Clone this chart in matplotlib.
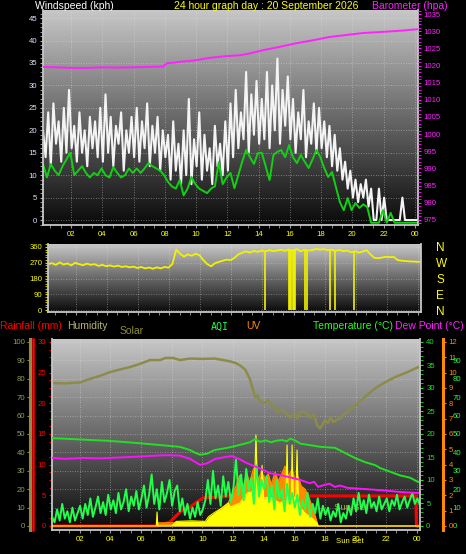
import matplotlib.pyplot as plt
import numpy as np
from matplotlib.ticker import MultipleLocator

plt.rcParams["font.family"] = ["Liberation Sans", "DejaVu Sans"]

W, H = 466, 554
T0, T1 = 0.2, 24.2  # the 24 hour window, in hours from midnight

# ---- top panel: wind speed (kph) and barometer (hPa) ----
# gusts every 10 minutes from T0
gust_kph = [
    20, 14, 24, 12, 26, 17, 22, 13, 25, 15, 29, 16,
    21, 13, 24, 15, 20, 12, 23, 16, 22, 14, 25, 13,
    28, 15, 23, 12, 21, 17, 24, 11, 20, 15, 23, 14,
    25, 13, 22, 16, 26, 12, 21, 15, 23, 11, 20, 14,
    19, 9, 22, 11, 17, 8, 20, 10, 27, 8, 18, 12,
    24, 9, 19, 11, 16, 8, 21, 12, 17, 10, 22, 11,
    26, 14, 29, 16, 24, 18, 33, 15, 28, 19, 31, 17,
    27, 18, 33, 16, 30, 20, 36, 17, 29, 21, 32, 18,
    27, 15, 24, 18, 29, 14, 22, 17, 26, 15, 25, 16,
    22, 14, 21, 12, 19, 11, 16, 9, 13, 7, 11, 5,
    9, 4, 8, 5, 9, 3, 7, 0, 0, 7, 0, 5,
    0, 0, 0, 0, 0, 0, 5, 0, 0, 0, 0, 0, 0,
]
# average speed every 15 minutes from T0
avg_kph = [
    12.5, 9.5, 12.5, 11, 10, 12, 13.5, 15, 10, 11, 12, 10.5,
    9.5, 10.5, 10, 11.5, 10, 9.5, 11.8, 10.5, 9.5, 10, 11.5, 10.5,
    11.5, 10.5, 11.5, 12.7, 12, 11.5, 11, 10, 8.5, 7.5, 7, 8.9,
    5.5, 7, 9.6, 8, 7, 6.5, 6, 7, 7.5, 12.9, 8, 9.5,
    10.5, 7.1, 10, 13, 15.6, 14, 12.5, 14.9, 15, 12, 8.9, 14.5,
    15.2, 15.6, 14, 16.7, 14, 12.7, 14.5, 13, 11.6, 13.5, 15.6, 14,
    11.6, 9.6, 10.7, 7.3, 4, 2.2, 4.9, 2.2, 3.8, 2.7, 3.5, 2.9,
    -0.6, -0.6, -0.6, 2.2, -0.6, 1.6, -0.6, -0.6, -0.6, -0.6, -0.6, -0.6, -0.6,
]
baro_hours = [0.2, 1.0, 2.0, 3.0, 4.0, 5.0, 6.0, 7.0, 7.9, 8.1, 9.0, 9.9, 10.8,
              11.8, 12.8, 13.5, 14.3, 15.3, 16.4, 17.4, 18.5, 19.6, 20.7, 21.5,
              22.2, 23.2, 24.2]
baro_hpa = [1019.6, 1019.5, 1019.3, 1019.3, 1019.5, 1019.4, 1019.5, 1019.6, 1019.7,
            1020.6, 1021.1, 1021.5, 1022.2, 1022.7, 1023.0, 1023.6, 1024.5, 1025.4,
            1026.5, 1027.3, 1028.3, 1028.9, 1029.5, 1029.7, 1029.9, 1030.2, 1030.6]

# ---- middle panel: wind direction (degrees), every 15 minutes from T0 ----
dir_deg = [
    262, 268, 258, 272, 260, 266, 255, 270, 262, 256, 265, 258,
    262, 252, 258, 250, 255, 248, 254, 246, 250, 244, 248, 240,
    246, 238, 243, 236, 244, 238, 246, 242, 262, 345, 322, 305,
    318, 310, 322, 312, 285, 262, 250, 268, 275, 282, 288, 285,
    298, 318, 328, 335, 328, 338, 332, 340, 335, 342, 336, 340,
    344, 338, 346, 340, 348, 336, 344, 340, 342, 350, 345, 348,
    342, 345, 338, 344, 336, 340, 330, 336, 328, 334, 342, 318,
    298, 296, 300, 304, 302, 303, 285, 282, 280, 278, 277, 276, 275,
]
# short readings that dropped to north
dir_drop_hours = [14.16, 15.7, 15.78, 15.86, 15.94, 16.02, 16.1, 16.74, 16.87,
                  18.35, 18.67, 19.9]
dir_drop_from = [335, 340, 345, 342, 338, 344, 340, 342, 340, 344, 340, 334]

# ---- bottom panel ----
hum_hours = [0.2, 1.05, 2.0, 2.7, 3.3, 4.0, 4.6, 5.3, 5.9, 6.6, 7.25, 7.6, 8.1,
             8.55, 9.2, 10.0, 10.8, 11.35, 11.8, 12.2, 12.5, 12.8, 13.1, 13.45,
             13.6, 13.8, 14.1, 14.25, 14.45, 14.75, 14.9, 15.2, 15.45, 15.75,
             16.05, 16.2, 16.4, 16.7, 17.05, 17.3, 17.5, 17.7, 18.0, 18.2, 18.35,
             18.55, 18.75, 19.0, 19.3, 19.65, 20.0, 20.6, 21.3, 21.9, 22.6, 23.2,
             24.1, 24.2]
hum_pct = [77.7, 77.5, 78, 80, 81.5, 83.7, 85, 86.4, 88, 90.2, 90.2, 91.3, 91.3,
           90.2, 91, 90.8, 91, 90.2, 89.5, 88.5, 87, 85, 80, 70, 71, 67.4, 67,
           68.5, 66, 64.7, 62, 63, 61.5, 59, 61, 58.5, 62, 62, 59, 60.5, 54.5, 53,
           57.6, 56, 59, 56.5, 57.6, 58.5, 61, 63.5, 65.7, 70, 75, 78, 81, 83,
           86.4, 86.5]

temp_hours = [0.2, 1.5, 2.7, 4.0, 5.9, 7.25, 8.55, 9.2, 9.55, 9.85, 10.3, 10.8,
              11.8, 12.65, 13.1, 13.45, 13.75, 14.15, 14.5, 14.75, 15.2, 15.5,
              15.75, 16.05, 16.4, 17.0, 17.7, 18.65, 19.3, 19.95, 20.6, 21.3,
              21.6, 22.25, 22.9, 23.55, 24.0, 24.2]
temp_c = [19.1, 18.9, 18.7, 18.5, 18.0, 17.6, 17.2, 16.5, 15.9, 15.5, 15.7, 16.5,
          17.1, 17.8, 18.2, 18.9, 18.3, 18.6, 18.2, 18.5, 18.7, 18.4, 19.0, 18.6,
          17.9, 17.6, 17.2, 17.0, 15.9, 14.8, 13.9, 13.2, 12.6, 11.8, 11.0, 10.5,
          9.7, 9.5]

dew_hours = [0.2, 1.05, 2.2, 3.3, 5.3, 7.6, 8.55, 9.2, 9.85, 10.3, 10.85, 11.5,
             11.95, 12.45, 12.9, 13.55, 14.1, 14.4, 15.05, 15.7, 16.4, 17.0,
             17.3, 17.55, 17.95, 18.3, 18.65, 19.0, 19.45, 20.3, 21.6, 22.9,
             23.9, 24.2]
dew_c = [14.8, 14.6, 14.8, 14.7, 15.0, 15.4, 15.3, 14.6, 13.3, 13.6, 14.6, 15.0,
         15.2, 14.5, 13.7, 12.8, 12.0, 11.5, 11.1, 10.6, 10.0, 9.3, 9.6, 8.5,
         8.9, 9.2, 8.5, 8.8, 8.3, 8.1, 7.8, 7.4, 7.2, 7.2]

rain_hours = [0.2, 7.05, 7.9, 8.35, 8.7, 9.2, 9.65, 10.05, 10.85, 11.7, 23.93, 23.97, 24.2]
rain_mm = [0, 0, 0.65, 1.8, 2.6, 3.1, 3.9, 4.6, 4.7, 4.9, 4.9, 0, 0]

uv_hours = [7.05, 10.4, 10.85, 11.3, 11.7, 12.0, 12.2, 12.45, 12.65, 12.9, 13.1,
            13.3, 13.45, 13.65, 13.85, 14.1, 14.3, 14.5, 14.75, 14.95, 15.15,
            15.4, 15.6, 15.85, 16.05, 16.25, 16.45, 16.7, 16.9, 17.15, 17.35,
            17.55, 24.2]
uv_index = [0.2, 0.2, 0.8, 1.2, 1.5, 2.2, 2.6, 3.3, 2.5, 3.4, 2.8, 3.6, 3.9, 3.0,
            3.5, 3.1, 3.4, 2.7, 3.5, 2.9, 3.3, 3.9, 3.2, 3.7, 3.0, 3.2, 2.6, 2.4,
            2.0, 1.3, 0.7, 0, 0]

solar_hours = [0.2, 7.0, 7.05, 7.1, 8.0, 8.3, 9.3, 10.2, 10.4, 10.85, 11.3, 11.7,
               11.8, 12.45, 12.95, 13.4, 13.5, 13.6, 13.8, 13.9, 14.0, 14.4,
               15.05, 15.45, 15.53, 15.6, 15.8, 15.86, 15.92, 16.1, 16.18, 16.26,
               16.38, 16.7, 17.15, 17.5, 17.55, 24.2]
solar_wm2 = [0, 0, 76, 0, 0, 25, 28, 25, 50, 76, 98, 125, 103, 125, 180, 190, 495,
             175, 160, 330, 152, 158, 125, 140, 440, 150, 145, 440, 160, 150, 413,
             140, 103, 70, 43, 15, 0, 0]

# air quality every 10 minutes from T0
aqi = [
    5, 2, 9, 3, 12, 4, 8, 2, 10, 3, 7, 11,
    4, 12, 6, 15, 5, 10, 16, 7, 13, 6, 17, 9,
    14, 7, 18, 9, 13, 20, 8, 16, 11, 19, 9, 15,
    22, 10, 17, 28, 12, 20, 9, 24, 13, 18, 25, 11,
    19, 22, 8, 15, 6, 12, 4, 10, 5, 13, 6, 9,
    14, 25, 12, 30, 15, 22, 11, 27, 16, 24, 13, 21,
    36, 17, 28, 14, 31, 19, 26, 12, 33, 16, 25, 20,
    27, 13, 22, 9, 25, 15, 20, 8, 23, 12, 18, 10,
    17, 6, 14, 9, 18, 5, 12, 7, 15, 4, 11, 6,
    10, 3, 8, 5, 12, 2, 7, 4, 11, 6, 15, 8,
    18, 9, 14, 7, 17, 10, 13, 8, 16, 9, 12, 15,
    8, 14, 11, 17, 9, 13, 16, 10, 14, 18, 12, 15, 11,
]

sunset_hour = 19.64
hour_ticks = list(range(2, 25, 2))
hour_labels = [f"{h % 24:02d}" for h in hour_ticks]

gust_hours = T0 + np.arange(len(gust_kph)) / 6
avg_hours = T0 + np.arange(len(avg_kph)) / 4
dir_hours = T0 + np.arange(len(dir_deg)) / 4
aqi_hours = T0 + np.arange(len(aqi)) / 6

OLIVE = "#8c8c4a"
GRIDC = "#e4e4e4"
FS = 5.6


def px_box(left, top, right, bottom):
    return [left / W, 1 - bottom / H, (right - left) / W, (bottom - top) / H]


def shade(ax):
    ramp = np.linspace(0.04, 0.78, 256).reshape(-1, 1)
    ax.imshow(ramp, cmap="gray", vmin=0, vmax=1, origin="lower", aspect="auto",
              extent=(0, 1, 0, 1), transform=ax.transAxes, zorder=0)


def bare(ax):
    for s in ax.spines.values():
        s.set_visible(False)


def time_axis(ax, labels=True):
    ax.set_xlim(T0, T1)
    ax.set_xticks(hour_ticks)
    ax.set_xticklabels(hour_labels)
    ax.xaxis.set_minor_locator(MultipleLocator(2 / 3))
    ax.tick_params(axis="x", which="both", colors="#9a9a9a", labelcolor="#ffff00",
                   labelsize=FS, length=2, pad=2.5, labelbottom=labels)
    ax.grid(True, axis="x", color=GRIDC, ls=(0, (1, 2)), lw=0.6, alpha=0.55)


def frame(ax, sides):
    bare(ax)
    for side in sides:
        ax.spines[side].set_visible(True)
        ax.spines[side].set_color("#c8c8c8")
        ax.spines[side].set_linewidth(1.3)


def bottom_scale(top):
    # zero sits 4 px above the panel floor, the top value 3 px below its roof
    return (-top * 4 / 184, top * (1 + 3 / 184))


fig = plt.figure(figsize=(W / 100, H / 100), dpi=100, facecolor="black")

# ---------------- wind speed ----------------
ax1 = fig.add_axes(px_box(43, 10, 418, 225))
shade(ax1)
ax1.plot(gust_hours, gust_kph, color="#f4f4f4", lw=1.5)
ax1.plot(avg_hours, avg_kph, color="#12d012", lw=1.4)
ax1.set_ylim(-1.1, 46.8)
ax1.set_yticks(range(0, 46, 5))
ax1.yaxis.set_minor_locator(MultipleLocator(1))
ax1.tick_params(axis="y", which="both", colors="#b0b0b0", labelcolor="#d8e4ff",
                labelsize=FS, length=2, pad=2)
ax1.grid(True, axis="y", color=GRIDC, ls=(0, (1, 2)), lw=0.6, alpha=0.55)
time_axis(ax1)
frame(ax1, ["left", "bottom", "right"])

ax1b = ax1.twinx()
ax1b.plot(baro_hours, baro_hpa, color="#ff22ff", lw=1.4)
ax1b.set_ylim(973.5, 1036.2)
ax1b.set_yticks(range(975, 1036, 5))
ax1b.yaxis.set_minor_locator(MultipleLocator(1))
ax1b.tick_params(axis="y", which="both", colors="#ff22ff", labelsize=FS,
                 length=2, pad=2)
bare(ax1b)

# ---------------- wind direction ----------------
ax2 = fig.add_axes(px_box(48, 244, 421, 312))
shade(ax2)
ax2.plot(dir_hours, dir_deg, color="#f2f200", lw=1.3)
ax2.vlines(dir_drop_hours, 0, dir_drop_from, color="#f2f200", lw=1.2)
ax2.set_ylim(-11, 377)
ax2.set_yticks(range(0, 361, 90))
ax2.yaxis.set_minor_locator(MultipleLocator(15))
ax2.tick_params(axis="y", which="both", colors="#e0e000", labelcolor="#ffff00",
                labelsize=FS, length=2, pad=2)
ax2.grid(True, axis="y", color=GRIDC, ls=(0, (1, 2)), lw=0.6, alpha=0.45)
time_axis(ax2, labels=False)
frame(ax2, ["left", "bottom", "right"])

ax2r = ax2.twinx()
ax2r.set_ylim(-11, 377)
ax2r.set_yticks(range(0, 361, 90))
ax2r.set_yticklabels(["N", "E", "S", "W", "N"])
ax2r.tick_params(axis="y", length=0, pad=11, labelsize=8.5, labelcolor="#ffff00")
bare(ax2r)

# ---------------- rain, humidity, solar, AQI, UV, temperature ----------------
box3 = px_box(52, 339, 420, 530)
ax3 = fig.add_axes(box3)  # humidity scale, carries the background and grid
shade(ax3)
ax3.plot(hum_hours, hum_pct, color=OLIVE, lw=1.8)
ax3.set_ylim(bottom_scale(100))
ax3.set_yticks(range(0, 101, 10))
ax3.tick_params(axis="y", colors=OLIVE, labelcolor="#9a9a58", labelsize=FS,
                length=2, pad=1.5)
ax3.grid(True, axis="y", color=GRIDC, ls=(0, (1, 2)), lw=0.6, alpha=0.5)
time_axis(ax3)
frame(ax3, ["bottom"])
ax3.spines["left"].set_visible(True)
ax3.spines["left"].set_position(("axes", -22 / 368))
ax3.spines["left"].set_color(OLIVE)
ax3.spines["left"].set_linewidth(2.2)

ax_rain = ax3.twinx()
ax_rain.yaxis.tick_left()
ax_rain.plot(rain_hours, rain_mm, color="#ff0000", lw=2.2)
ax_rain.set_ylim(bottom_scale(30))
ax_rain.set_yticks(range(0, 31, 5))
ax_rain.yaxis.set_minor_locator(MultipleLocator(1.25))
ax_rain.tick_params(axis="y", which="both", colors="#ff0000", labelsize=FS,
                    length=2.5, pad=1.5)
frame(ax_rain, ["left"])

ax_uv = ax3.twinx()
ax_uv.fill_between(uv_hours, 0, uv_index, color="#ff8a00", lw=0)
ax_uv.plot(uv_hours, uv_index, color="#ff8a00", lw=1.0)
ax_uv.set_ylim(bottom_scale(12))
ax_uv.set_yticks(range(0, 13))
ax_uv.tick_params(axis="y", colors="#ff8a00", labelsize=FS, length=2, pad=2)
bare(ax_uv)
ax_uv.spines["right"].set_visible(True)
ax_uv.spines["right"].set_position(("axes", 391 / 368))
ax_uv.spines["right"].set_color("#ff8a00")
ax_uv.spines["right"].set_linewidth(2.2)

ax_sol = ax3.twinx()
ax_sol.fill_between(solar_hours, 0, solar_wm2, color="#ffff00", lw=0)
ax_sol.plot(solar_hours, solar_wm2, color="#ffff00", lw=0.8)
ax_sol.set_ylim(bottom_scale(1000))
ax_sol.set_yticks([])
ax_sol.text(18.6, 0.12, "Sun Set", color="#b0a040", fontsize=6.8,
            transform=ax_sol.get_xaxis_transform(), va="center")
bare(ax_sol)
ax_sol.spines["left"].set_visible(True)
ax_sol.spines["left"].set_position(("axes", -19 / 368))
ax_sol.spines["left"].set_color("#ff0000")
ax_sol.spines["left"].set_linewidth(1.8)

ax_aqi = ax3.twinx()
ax_aqi.plot(aqi_hours, aqi, color="#22ff4a", lw=1.4)
ax_aqi.set_ylim(bottom_scale(100))
ax_aqi.set_yticks(range(0, 91, 10))
ax_aqi.tick_params(axis="y", length=0, labelcolor="#22ff4a", labelsize=FS, pad=7)
bare(ax_aqi)
ax_aqi.spines["right"].set_position(("axes", 391 / 368))

ax_t = ax3.twinx()
ax_t.plot(temp_hours, temp_c, color="#22e022", lw=1.4)
ax_t.plot(dew_hours, dew_c, color="#ff10ff", lw=1.4)
ax_t.set_ylim(bottom_scale(40))
ax_t.set_yticks(range(0, 41, 5))
ax_t.yaxis.set_minor_locator(MultipleLocator(1))
ax_t.tick_params(axis="y", which="both", colors="#22e022", labelsize=FS,
                 length=2, pad=2.5)
frame(ax_t, ["right"])
ax3.set_xlim(T0, T1)
ax3.text(sunset_hour, -0.058, "Sun Set", color="#ffff00", fontsize=FS,
         transform=ax3.get_xaxis_transform(), ha="center", va="center")

# ---------------- captions ----------------
def caption(x, y, s, color, ha="left", size=7.5, **kw):
    fig.text(x / W, 1 - y / H, s, color=color, ha=ha, va="center", fontsize=size, **kw)


caption(35, 6, "Windspeed (kph)", "#ffffff")
caption(266, 6, "24 hour graph day : 20 September 2026", "#ffff00", ha="center")
caption(372, 6, "Barometer (hpa)", "#ff22ff")
caption(0, 326, "Rainfall (mm)", "#ff0000")
caption(67, 326, "Humidity", "#b4b47a")
caption(120, 331, "Solar", "#909030")
caption(211, 327, "AQI", "#22ff4a", family="DejaVu Sans Mono", size=7.2)
caption(246, 326, "UV", "#ff8a00")
caption(313, 326, "Temperature (\u00b0C)", "#22ff22")
caption(395, 326, "Dew Point (\u00b0C)", "#ff22ff")

fig.savefig("out.png", dpi=100, facecolor="black")
